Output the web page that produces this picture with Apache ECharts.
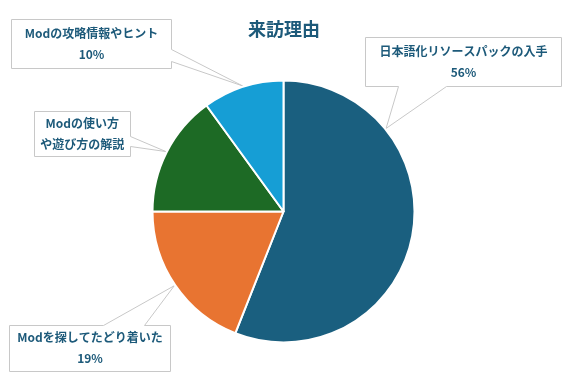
<!DOCTYPE html>
<html>
<head>
<meta charset="utf-8">
<script src="https://cdn.jsdelivr.net/npm/echarts@6/dist/echarts.min.js"></script>
<style>html,body{margin:0;padding:0;background:#fff;}#c{width:568px;height:378px;}</style>
</head>
<body>
<div id="c"></div>
<script>
// ---- data ----
const chartTitle = '来訪理由';
const categories = ['日本語化リソースパックの入手', 'Modを探してたどり着いた', 'Modの使い方\nや遊び方の解説', 'Modの攻略情報やヒント'];
const values = [56, 19, 15, 10];
const showPercent = [true, true, false, true];

// ---- style / layout ----
const colors = ['#1a5f7f', '#e87431', '#1d6a25', '#169ed5'];
const textColor = '#1d5a7a';
const CX = 283.5, CY = 211.5, R = 131;
const boxes = [
  { cx: 463.5, cy: 61.5, w: 196, h: 49, side: 'bottom', base: [398, 446.5], tipAngle: 51 },
  { cx: 90, cy: 348, w: 161, h: 46, side: 'top', base: [103.5, 144] },
  { cx: 82.25, cy: 133.5, w: 95.5, h: 45, side: 'right', base: [136.5, 146.5] },
  { cx: 91.5, cy: 44, w: 160, h: 49, side: 'right', base: [49.5, 61] }
];

const total = values.reduce((a, b) => a + b, 0);
function midAngle(i) {
  let cum = 0;
  for (let k = 0; k < i; k++) cum += values[k];
  return (cum + values[i] / 2) / total * 360;
}
const snap = v => Math.round(v - 0.5) + 0.5;

const chart = echarts.init(document.getElementById('c'), null, { renderer: 'canvas' });
chart.setOption({
  animation: false,
  title: {
    text: chartTitle, left: 'center', top: 15,
    textStyle: { fontFamily: 'Noto Sans CJK JP', fontWeight: 'bold', fontSize: 18, color: textColor }
  },
  series: [{
    type: 'pie',
    center: [CX, CY],
    radius: R,
    startAngle: 90,
    clockwise: true,
    silent: true,
    avoidLabelOverlap: false,
    itemStyle: { borderColor: '#fff', borderWidth: 2 },
    label: {
      show: true, position: 'outside',
      fontFamily: 'Noto Sans CJK JP', fontWeight: 'bold', fontSize: 12,
      color: textColor, lineHeight: 21, align: 'center',
      formatter: p => showPercent[p.dataIndex] ? p.name + '\n' + p.value + '%' : p.name
    },
    labelLine: { show: true, lineStyle: { color: '#c8c8c8', width: 1 } },
    labelLayout: function (p) {
      const b = boxes[p.dataIndex];
      const L = snap(b.cx - b.w / 2), Rt = snap(b.cx + b.w / 2);
      const T = snap(b.cy - b.h / 2), B = snap(b.cy + b.h / 2);
      const ang = (b.tipAngle != null ? b.tipAngle : midAngle(p.dataIndex)) * Math.PI / 180;
      const tip = [CX + (R + 1) * Math.sin(ang), CY - (R + 1) * Math.cos(ang)];
      let pts;
      if (b.side === 'bottom') {
        const p1 = [snap(b.base[0]), B], p2 = [snap(b.base[1]), B];
        pts = [p1, tip, p2, [Rt, B], [Rt, T], [L, T], [L, B], p1];
      } else if (b.side === 'top') {
        const p1 = [snap(b.base[0]), T], p2 = [snap(b.base[1]), T];
        pts = [p1, tip, p2, [Rt, T], [Rt, B], [L, B], [L, T], p1];
      } else {
        const p1 = [Rt, snap(b.base[0])], p2 = [Rt, snap(b.base[1])];
        pts = [p1, tip, p2, [Rt, B], [L, B], [L, T], [Rt, T], p1];
      }
      return { x: b.cx, y: b.cy, align: 'center', verticalAlign: 'middle', labelLinePoints: pts };
    },
    emphasis: { disabled: true },
    data: categories.map((c, i) => ({ name: c, value: values[i], itemStyle: { color: colors[i] } }))
  }]
});
</script>
</body>
</html>
